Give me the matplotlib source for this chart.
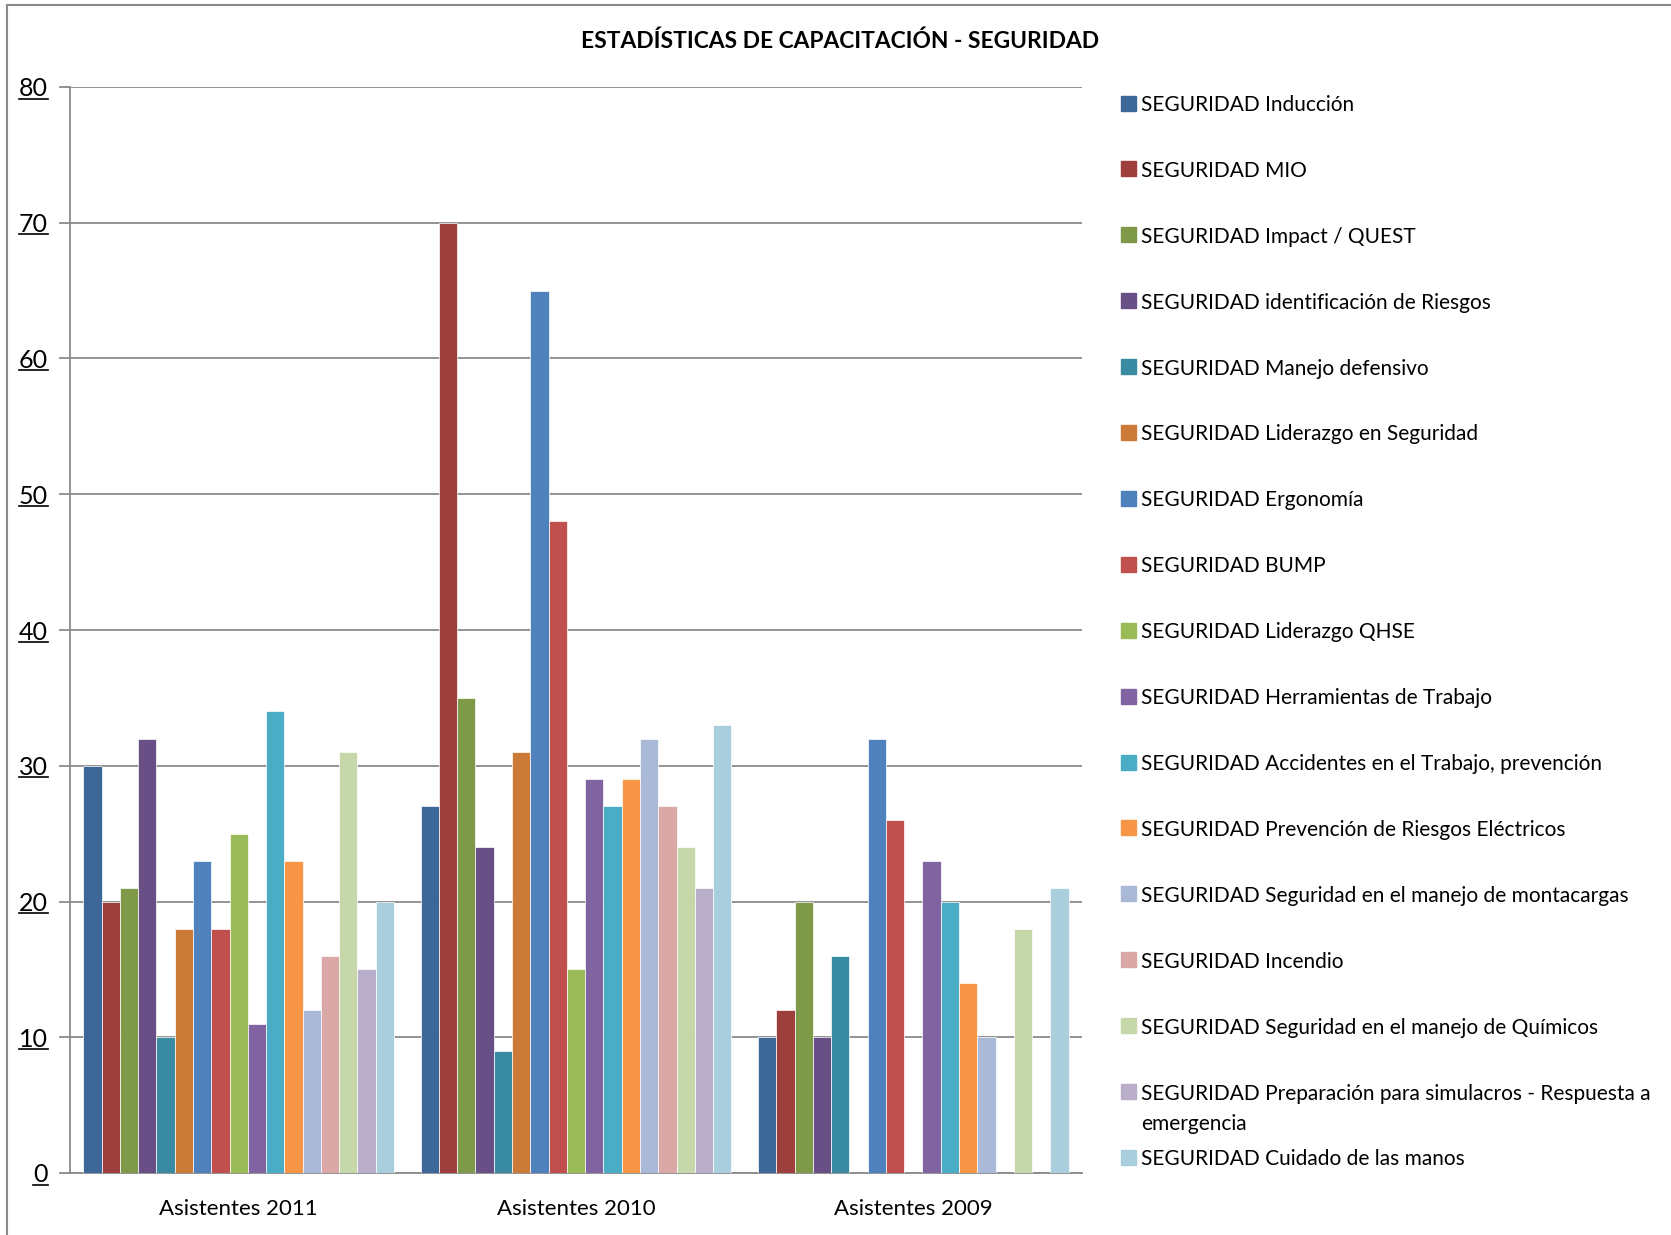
import numpy as np
import matplotlib.pyplot as plt
from matplotlib.patches import Rectangle
from matplotlib.lines import Line2D

plt.rcParams['font.family'] = ['Lato', 'DejaVu Sans']

# datos
titulo = 'ESTADÍSTICAS DE CAPACITACIÓN - SEGURIDAD'
categorias = ['Asistentes 2011', 'Asistentes 2010', 'Asistentes 2009']
series = [
    'SEGURIDAD Inducción',
    'SEGURIDAD MIO',
    'SEGURIDAD Impact / QUEST',
    'SEGURIDAD identificación de Riesgos',
    'SEGURIDAD Manejo defensivo',
    'SEGURIDAD Liderazgo en Seguridad',
    'SEGURIDAD Ergonomía',
    'SEGURIDAD BUMP',
    'SEGURIDAD Liderazgo QHSE',
    'SEGURIDAD Herramientas de Trabajo',
    'SEGURIDAD Accidentes en el Trabajo, prevención',
    'SEGURIDAD Prevención de Riesgos Eléctricos',
    'SEGURIDAD Seguridad en el manejo de montacargas',
    'SEGURIDAD Incendio',
    'SEGURIDAD Seguridad en el manejo de Químicos',
    'SEGURIDAD Preparación para simulacros - Respuesta a\nemergencia',
    'SEGURIDAD Cuidado de las manos',
]
asistentes_2011 = [30, 20, 21, 32, 10, 18, 23, 18, 25, 11, 34, 23, 12, 16, 31, 15, 20]
asistentes_2010 = [27, 70, 35, 24, 9, 31, 65, 48, 15, 29, 27, 29, 32, 27, 24, 21, 33]
asistentes_2009 = [10, 12, 20, 10, 16, 0, 32, 26, 0, 23, 20, 14, 10, 0, 18, 0, 21]
yticks = [0, 10, 20, 30, 40, 50, 60, 70, 80]

colores = ['#3D6699', '#9E3F3D', '#7E9A48', '#684F86', '#398BA2', '#CC7A37',
           '#4F81BD', '#C0504D', '#9BBB59', '#8064A2', '#4BACC6', '#F79646',
           '#AAB9D7', '#D9A8A7', '#C6D7AA', '#B9AFCA', '#A9CEDC']

W, H = 1671, 1235
fig = plt.figure(figsize=(W / 100, H / 100), dpi=100)
ax = fig.add_axes([70 / W, 1 - 1173 / H, (1082 - 70) / W, (1173 - 87) / H])

datos = np.array([asistentes_2011, asistentes_2010, asistentes_2009])
n = len(series)
ancho = 1 / (n + 1.46)
x = np.arange(len(categorias))
for i in range(n):
    ax.bar(x + (i - (n - 1) / 2) * ancho, datos[:, i], ancho, color=colores[i],
           edgecolor='white', linewidth=0.5, zorder=3)

gris = '#8A8A8A'
ax.set_xlim(-0.5, 2.5)
ax.set_ylim(0, 80)
ax.set_yticks(yticks, [str(v) for v in yticks])
ax.set_xticks(x, categorias)
ax.yaxis.grid(True, color=gris, lw=1.3)
ax.set_axisbelow(True)
for s in ['top', 'right']:
    ax.spines[s].set_visible(False)
for s in ['left', 'bottom']:
    ax.spines[s].set_color(gris)
    ax.spines[s].set_linewidth(1.3)
ax.tick_params(axis='y', length=8, width=1.3, color=gris, pad=8, labelsize=18)
ax.tick_params(axis='x', length=0, pad=19, labelsize=16)
for t in ax.get_yticklabels():
    t.set_va('center_baseline')

fig.text(840 / W, 1 - 41 / H, titulo, ha='center', va='center',
         fontsize=16.4, fontweight='bold')

# leyenda
for i, lab in enumerate(series):
    yc = 103 + i * 65.9
    fig.add_artist(Rectangle((1121 / W, 1 - (yc + 7.5) / H), 15 / W, 15 / H,
                             transform=fig.transFigure, color=colores[i]))
    for k, linea in enumerate(lab.split('\n')):
        fig.text(1141 / W, 1 - (yc + 8 + k * 30) / H, linea, ha='left',
                 va='baseline', fontsize=15)

# marco
fig.add_artist(Line2D([7 / W, 7 / W], [0, 1 - 5 / H], transform=fig.transFigure,
                      color=gris, lw=1.5))
fig.add_artist(Line2D([7 / W, 1], [1 - 5 / H, 1 - 5 / H], transform=fig.transFigure,
                      color=gris, lw=1.5))

# subrayado de las etiquetas del eje y
fig.canvas.draw()
r = fig.canvas.get_renderer()
for t in ax.get_yticklabels():
    bb = t.get_window_extent(r)
    yy = bb.y0 + 2
    fig.add_artist(Line2D([bb.x0 / W, bb.x1 / W], [yy / H, yy / H],
                          transform=fig.transFigure, color='black', lw=1.2))

fig.savefig('out.png', dpi=100)
